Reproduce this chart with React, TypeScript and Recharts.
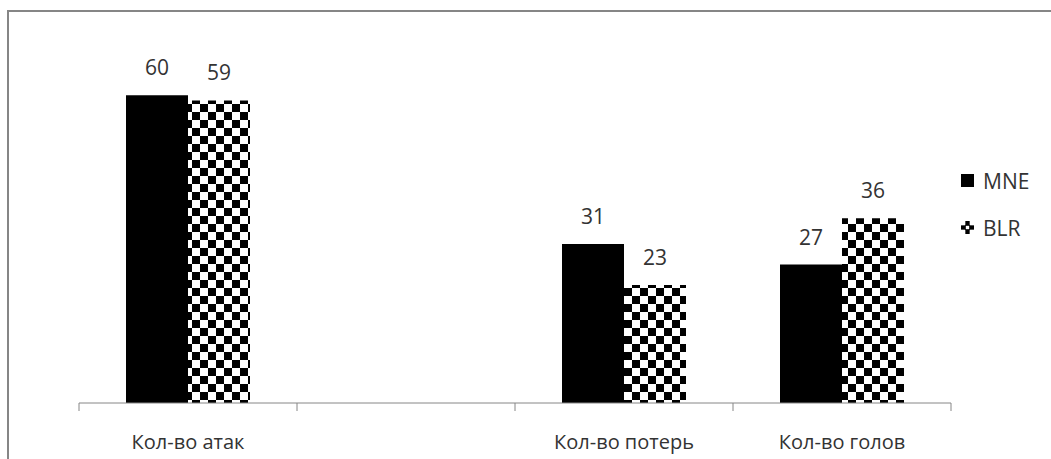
import React from "react";
import { BarChart, Bar, XAxis, YAxis, LabelList } from "recharts";

const categories = ["Кол-во атак", "", "Кол-во потерь", "Кол-во голов"];
const mneValues = [60, null, 31, 27];
const blrValues = [59, null, 23, 36];
const seriesNames = ["MNE", "BLR"];

const data = categories.map((name, i) => ({
  name,
  MNE: mneValues[i],
  BLR: blrValues[i],
}));

const W = 1051;
const H = 459;
const PLOT_LEFT = 79;
const PLOT_RIGHT = 951;
const BAND = (PLOT_RIGHT - PLOT_LEFT) / categories.length;
const FONT = "'Open Sans', 'Noto Sans', sans-serif";
const AXIS_COLOR = "#868686";
const TEXT_COLOR = "#333333";

const AxisTick = (props: any) => {
  const { x, y, payload, index } = props;
  const half = BAND / 2;
  return (
    <g>
      <line x1={x - half} x2={x - half} y1={y} y2={y + 8} stroke={AXIS_COLOR} />
      {index === categories.length - 1 && (
        <line x1={x + half} x2={x + half} y1={y} y2={y + 8} stroke={AXIS_COLOR} />
      )}
      <text
        x={x}
        y={y + 46}
        textAnchor="middle"
        fill={TEXT_COLOR}
        fontSize={20}
        fontFamily={FONT}
      >
        {payload.value}
      </text>
    </g>
  );
};

const LegendIcon = ({ name }: { name: string }) => {
  if (name === "MNE") {
    return (
      <svg width={14} height={14} style={{ marginRight: 8 }}>
        <rect x={0} y={0} width={13} height={13} fill="#000" />
      </svg>
    );
  }
  const c = 13 / 3;
  const cells = [];
  for (let r = 0; r < 3; r++) {
    for (let k = 0; k < 3; k++) {
      if ((r + k) % 2 === 1) {
        cells.push(<rect key={`${r}-${k}`} x={k * c} y={r * c} width={c} height={c} fill="#000" />);
      }
    }
  }
  return (
    <svg width={14} height={14} style={{ marginRight: 8 }}>
      <rect x={0.5} y={0.5} width={12} height={12} fill="#fff" />
      {cells}
      <rect x={c} y={c} width={c} height={c} fill="none" stroke="#000" strokeWidth={0.8} />
    </svg>
  );
};

// legend rows, centred at y = 181 and y = 228
const ChartLegend = () => (
  <div
    style={{
      position: "absolute",
      left: 961,
      top: 167,
      fontFamily: FONT,
      fontSize: 21,
      color: TEXT_COLOR,
    }}
  >
    {seriesNames.map((name, i) => (
      <div
        key={name}
        style={{ display: "flex", alignItems: "center", height: 28, marginBottom: i === 0 ? 19 : 0 }}
      >
        <LegendIcon name={name} />
        <span>{name}</span>
      </div>
    ))}
  </div>
);

const App: React.FC = () => {
  return (
    <div style={{ position: "absolute", left: 0, top: 0, width: W, height: H, background: "#fff" }}>
      <svg width={0} height={0} style={{ position: "absolute" }}>
        <defs>
          <pattern id="checker" patternUnits="userSpaceOnUse" width={16} height={16}>
            <rect x={0} y={0} width={16} height={16} fill="#fff" />
            <rect x={0} y={0} width={8} height={8} fill="#000" />
            <rect x={8} y={8} width={8} height={8} fill="#000" />
          </pattern>
        </defs>
      </svg>
      <div
        style={{
          position: "absolute",
          left: 7,
          top: 10,
          width: W,
          height: H,
          borderLeft: `2px solid ${AXIS_COLOR}`,
          borderTop: `2px solid ${AXIS_COLOR}`,
        }}
      />
      <div style={{ position: "absolute", left: 0, top: 0 }}>
        <BarChart
          width={W}
          height={H}
          data={data}
          margin={{ top: 44, right: W - PLOT_RIGHT, bottom: 0, left: PLOT_LEFT }}
          barSize={62}
          barGap={0}
        >
          <XAxis
            dataKey="name"
            axisLine={{ stroke: AXIS_COLOR }}
            tickLine={false}
            tickSize={0}
            tickMargin={0}
            height={56}
            interval={0}
            tick={<AxisTick />}
          />
          <YAxis hide domain={[0, 70]} />
          <Bar dataKey="MNE" fill="#000" isAnimationActive={false}>
            <LabelList
              dataKey="MNE"
              position="top"
              offset={20}
              fill={TEXT_COLOR}
              fontSize={21}
              fontFamily={FONT}
            />
          </Bar>
          <Bar dataKey="BLR" fill="url(#checker)" isAnimationActive={false}>
            <LabelList
              dataKey="BLR"
              position="top"
              offset={20}
              fill={TEXT_COLOR}
              fontSize={21}
              fontFamily={FONT}
            />
          </Bar>
        </BarChart>
      </div>
      <ChartLegend />
    </div>
  );
};

export default App;
